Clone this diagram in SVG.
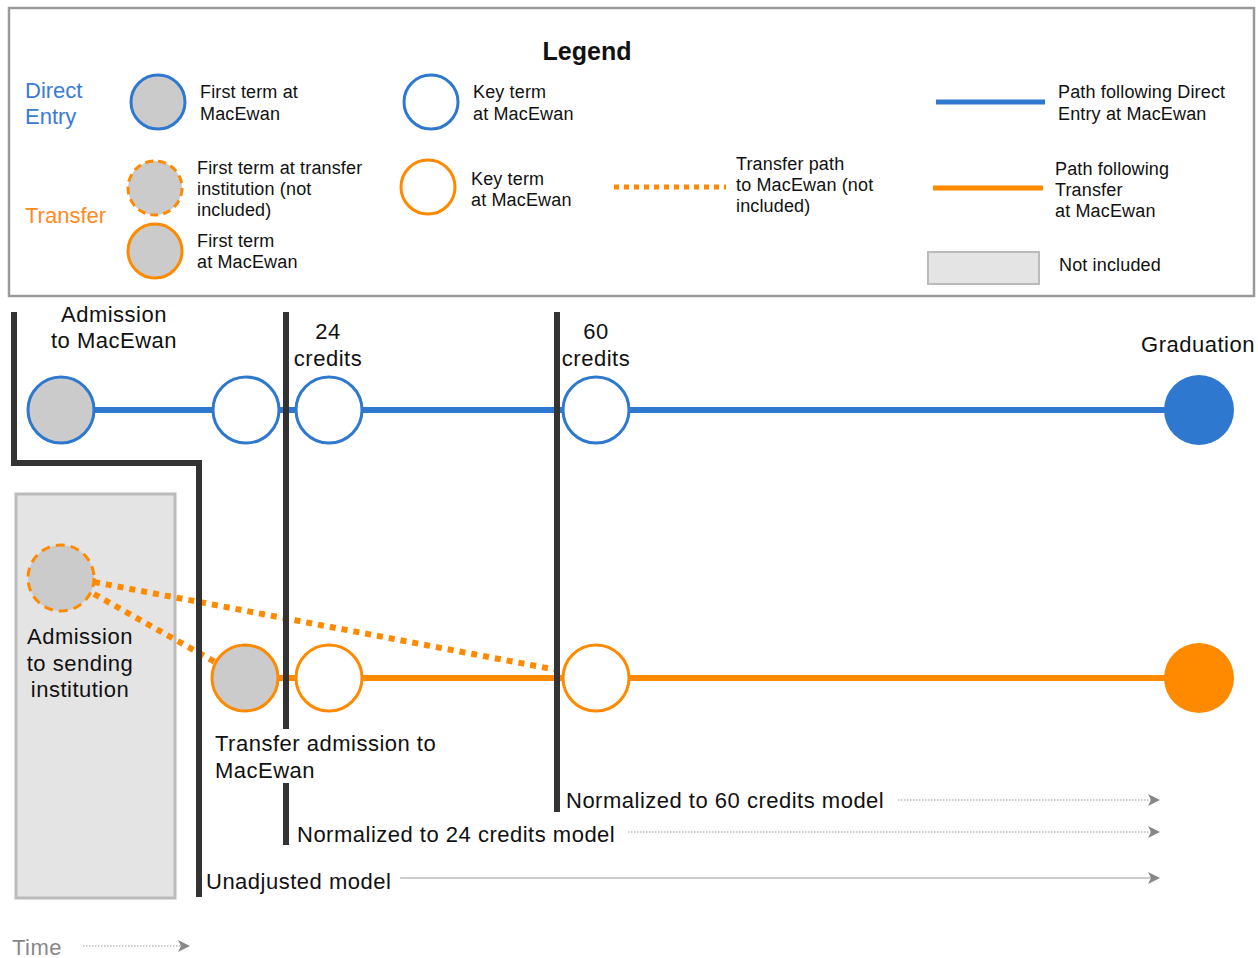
<svg xmlns="http://www.w3.org/2000/svg" width="1258" height="958" viewBox="0 0 1258 958">
<defs>
<style>
text{font-family:"Liberation Sans",Arial,sans-serif;fill:#111}
.lg{font-size:18px;letter-spacing:0.15px}
.mn{font-size:22px;letter-spacing:0.5px}
.blue{fill:#3a7bd5}
.org{fill:#ff8a1e}
.bc{stroke:#2f78d0;stroke-width:3;fill:#fff}
.oc{stroke:#ff8a00;stroke-width:3;fill:#fff}
.g{fill:#cbcbcb}
.bar{stroke:#333;stroke-width:6;fill:none}
.dot{stroke:#ff8a00;stroke-width:6;stroke-dasharray:6 6;fill:none}
.ax{stroke:#999;stroke-width:1.2;fill:none}
</style>
<marker id="ah" markerWidth="12" markerHeight="12" refX="10" refY="6" orient="auto" markerUnits="userSpaceOnUse">
<path d="M0,0 L12,6 L0,12 L3,6 Z" fill="#888"/>
</marker>
</defs>
<rect width="1258" height="958" fill="#fff"/>

<g id="legend">
<rect x="9" y="8" width="1245" height="288" fill="#fff" stroke="#9a9a9a" stroke-width="2.5"/>
<text x="587" y="60" text-anchor="middle" font-size="25" font-weight="bold">Legend</text>
<text x="25" y="98" font-size="22" class="blue">Direct</text>
<text x="25" y="124" font-size="22" class="blue">Entry</text>
<text x="25" y="223" font-size="22" class="org">Transfer</text>
<circle cx="158" cy="102" r="27" class="bc g"/>
<text class="lg" x="200" y="98">First term at</text>
<text class="lg" x="200" y="120">MacEwan</text>
<circle cx="431" cy="102" r="27" class="bc"/>
<text class="lg" x="473" y="98">Key term</text>
<text class="lg" x="473" y="120">at MacEwan</text>
<circle cx="155" cy="188" r="27" class="oc g" stroke-dasharray="8 5"/>
<text class="lg" x="197" y="174">First term at transfer</text>
<text class="lg" x="197" y="195">institution (not</text>
<text class="lg" x="197" y="216">included)</text>
<circle cx="155" cy="251" r="27" class="oc g"/>
<text class="lg" x="197" y="247">First term</text>
<text class="lg" x="197" y="268">at MacEwan</text>
<circle cx="428" cy="187" r="27" class="oc"/>
<text class="lg" x="471" y="185">Key term</text>
<text class="lg" x="471" y="206">at MacEwan</text>
<line x1="614" y1="187" x2="726" y2="187" stroke="#ff8a00" stroke-width="5" stroke-dasharray="5 5"/>
<text class="lg" x="736" y="170">Transfer path</text>
<text class="lg" x="736" y="191">to MacEwan (not</text>
<text class="lg" x="736" y="212">included)</text>
<line x1="936" y1="102" x2="1045" y2="102" stroke="#2f78d0" stroke-width="5"/>
<text class="lg" x="1058" y="98">Path following Direct</text>
<text class="lg" x="1058" y="120">Entry at MacEwan</text>
<line x1="933" y1="188" x2="1043" y2="188" stroke="#ff8a00" stroke-width="5"/>
<text class="lg" x="1055" y="175">Path following</text>
<text class="lg" x="1055" y="196">Transfer</text>
<text class="lg" x="1055" y="217">at MacEwan</text>
<rect x="928" y="252" width="111" height="32" fill="#e4e4e4" stroke="#bbb" stroke-width="2"/>
<text class="lg" x="1059" y="271">Not included</text>
</g>

<g id="not-included">
<rect x="16" y="494" width="159" height="404" fill="#e4e4e4" stroke="#bbb" stroke-width="3"/>
</g>

<g id="connectors">
<line x1="60" y1="410" x2="1200" y2="410" stroke="#2f78d0" stroke-width="6"/>
<line x1="245" y1="678" x2="1200" y2="678" stroke="#ff8a00" stroke-width="6"/>
<line x1="94" y1="582" x2="557" y2="670" class="dot"/>
<line x1="94" y1="594" x2="215" y2="662" class="dot"/>
<path d="M14,312 V463 H199 V897" class="bar"/>
<line x1="286" y1="312" x2="286" y2="729" class="bar"/>
<line x1="286" y1="783" x2="286" y2="845" class="bar"/>
<line x1="557" y1="312" x2="557" y2="812" class="bar"/>
<line x1="898" y1="800" x2="1158" y2="800" class="ax" stroke-dasharray="1.5 1.5" marker-end="url(#ah)"/>
<line x1="628" y1="832" x2="1158" y2="832" class="ax" stroke-dasharray="1.5 1.5" marker-end="url(#ah)"/>
<line x1="400" y1="878" x2="1158" y2="878" class="ax" marker-end="url(#ah)"/>
<line x1="83" y1="946" x2="188" y2="946" class="ax" stroke-dasharray="1.5 1.5" marker-end="url(#ah)"/>
</g>

<g id="direct-first"><circle cx="61" cy="410" r="33" class="bc g"/>
<text class="mn" x="114" y="322" text-anchor="middle">Admission</text>
<text class="mn" x="114" y="348" text-anchor="middle">to MacEwan</text></g>
<g id="direct-key1"><circle cx="246" cy="410" r="33" class="bc"/></g>
<g id="direct-key24"><circle cx="329" cy="410" r="33" class="bc"/>
<text class="mn" x="328" y="339" text-anchor="middle">24</text>
<text class="mn" x="328" y="366" text-anchor="middle">credits</text></g>
<g id="direct-key60"><circle cx="596" cy="410" r="33" class="bc"/>
<text class="mn" x="596" y="339" text-anchor="middle">60</text>
<text class="mn" x="596" y="366" text-anchor="middle">credits</text></g>
<g id="direct-grad"><circle cx="1199" cy="410" r="35" fill="#2f78d0"/>
<text class="mn" x="1198" y="352" text-anchor="middle">Graduation</text></g>

<g id="transfer-sending"><circle cx="61" cy="578" r="33" class="oc g" stroke-dasharray="9 6"/>
<text class="mn" x="80" y="644" text-anchor="middle">Admission</text>
<text class="mn" x="80" y="671" text-anchor="middle">to sending</text>
<text class="mn" x="80" y="697" text-anchor="middle">institution</text></g>
<g id="transfer-first"><circle cx="245" cy="678" r="33" class="oc g"/>
<text class="mn" x="215" y="751">Transfer admission to</text>
<text class="mn" x="215" y="778">MacEwan</text></g>
<g id="transfer-key24"><circle cx="329" cy="678" r="33" class="oc"/></g>
<g id="transfer-key60"><circle cx="596" cy="678" r="33" class="oc"/></g>
<g id="transfer-grad"><circle cx="1199" cy="678" r="35" fill="#ff8a00"/></g>

<g id="models">
<text class="mn" x="566" y="808" fill="#222">Normalized to 60 credits model</text>
<text class="mn" x="297" y="842">Normalized to 24 credits model</text>
<text class="mn" x="206" y="889">Unadjusted model</text>
<text class="mn" x="12" y="955" style="fill:#888">Time</text>
</g>
</svg>
